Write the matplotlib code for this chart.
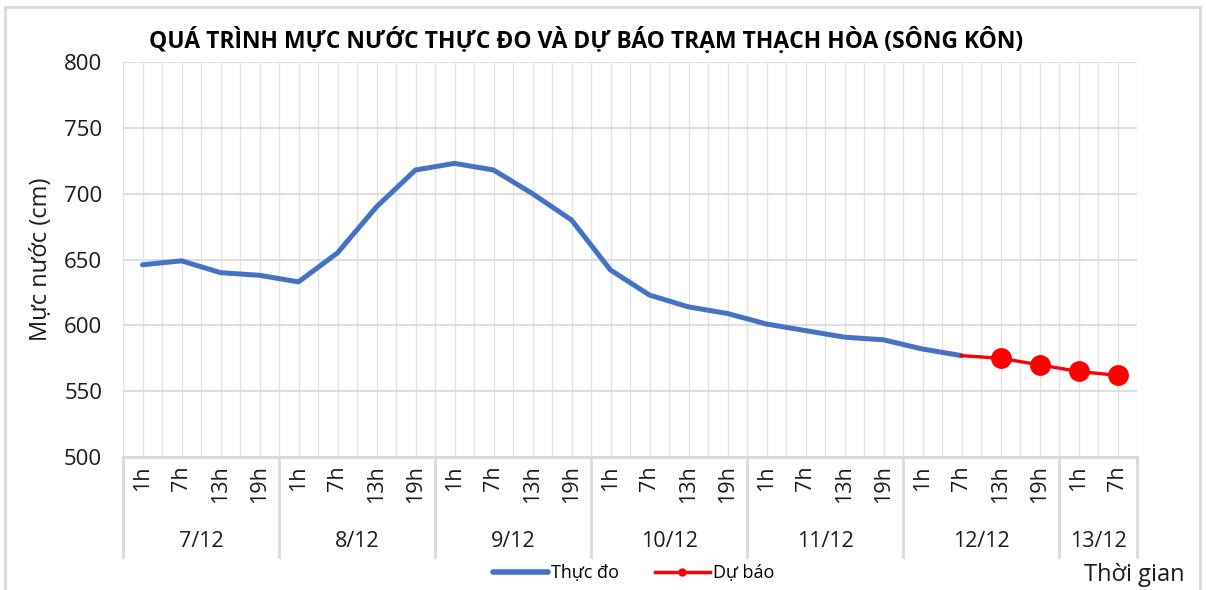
import matplotlib
matplotlib.use('Agg')
import matplotlib.pyplot as plt
from matplotlib.lines import Line2D
from matplotlib.patches import Rectangle
from matplotlib.ticker import MultipleLocator
import matplotlib.transforms as mtransforms

plt.rcParams['font.family'] = ['Open Sans', 'DejaVu Sans']

# Data
days = ['7/12', '8/12', '9/12', '10/12', '11/12', '12/12', '13/12']
hours_per_day = [4, 4, 4, 4, 4, 4, 2]
hour_labels = ['1h', '7h', '13h', '19h'] * 6 + ['1h', '7h']

observed = [646, 649, 640, 638, 633, 655, 690, 718, 723, 718, 700, 680,
            642, 623, 614, 609, 601, 596, 591, 589, 582, 577]
forecast_idx = [21, 22, 23, 24, 25]
forecast = [577, 575, 570, 565, 562]

blue = '#4472C4'
red = '#FF0000'
grid_c = '#d9d9d9'
text_c = '#1a1a1a'

fig = plt.figure(figsize=(12.06, 5.9), dpi=100)
ax = fig.add_axes([123 / 1206, 133 / 590, 1014 / 1206, 395 / 590])

x_obs = list(range(len(observed)))
ax.plot(x_obs, observed, color=blue, linewidth=3.6, solid_capstyle='round',
        solid_joinstyle='round', zorder=3)
ax.plot(forecast_idx, forecast, color=red, linewidth=2.4, zorder=4)
ax.plot(forecast_idx[1:], forecast[1:], 'o', color=red, markersize=14, zorder=5)

# Axes
n = len(hour_labels)
ax.set_xlim(-0.5, n - 0.5)
ax.set_ylim(500, 800)
ax.yaxis.set_major_locator(MultipleLocator(50))
ax.set_xticks(range(n))
ax.set_xticklabels(hour_labels, rotation=90, va='top', ha='center',
                   fontsize=15.5, color=text_c)
ax.xaxis.set_minor_locator(MultipleLocator(0.5))
ax.tick_params(axis='x', which='both', length=0, pad=6)
ax.tick_params(axis='y', length=0, pad=15, labelsize=16, labelcolor=text_c)

ax.grid(True, axis='y', color=grid_c, linewidth=1.2, zorder=0)
ax.grid(True, axis='x', which='both', color='#e3e3e3', linewidth=1.0, zorder=0)
ax.set_axisbelow(True)
for s in ['top', 'right', 'left']:
    ax.spines[s].set_visible(False)
ax.spines['bottom'].set_color(grid_c)
ax.spines['bottom'].set_linewidth(2)

# Day group separators and labels
trans = mtransforms.blended_transform_factory(ax.transData, ax.transAxes)
start = -0.5
ax.plot([start, start], [0, -0.253], color=grid_c, linewidth=2,
        transform=trans, clip_on=False)
for day, cnt in zip(days, hours_per_day):
    end = start + cnt
    ax.plot([end, end], [0, -0.253], color=grid_c, linewidth=2,
            transform=trans, clip_on=False)
    ax.text((start + end) / 2, -0.213, day, transform=trans, ha='center',
            va='center', fontsize=15.5, color=text_c)
    start = end

ax.set_ylabel('Mực nước (cm)', fontsize=17, color=text_c, labelpad=8)

fig.text(586 / 1206, 0.932, 'QUÁ TRÌNH MỰC NƯỚC THỰC ĐO VÀ DỰ BÁO TRẠM THẠCH HÒA (SÔNG KÔN)',
         ha='center', va='center', fontsize=16.5, fontweight='bold', color='#000000')

fig.text(1134 / 1206, 1 - 575 / 590, 'Thời gian', ha='center', va='center',
         fontsize=17, color=text_c)

handles = [Line2D([], [], color=blue, linewidth=4, solid_capstyle='round'),
           Line2D([], [], color=red, linewidth=2.5, marker='o', markersize=5)]
fig.legend(handles, ['Thực đo', 'Dự báo'], loc='center',
           bbox_to_anchor=(634 / 1206, 1 - 573 / 590), ncol=2, frameon=False,
           fontsize=13, handlelength=3.0, handletextpad=0.2, columnspacing=2.0)

# Outer chart border
fig.patches.append(Rectangle((5 / 1206, -0.02), 1195 / 1206, 1 - 7 / 590 + 0.02,
                             transform=fig.transFigure, fill=False,
                             edgecolor=grid_c, linewidth=2))

fig.savefig('out.png', dpi=100, facecolor='white')
